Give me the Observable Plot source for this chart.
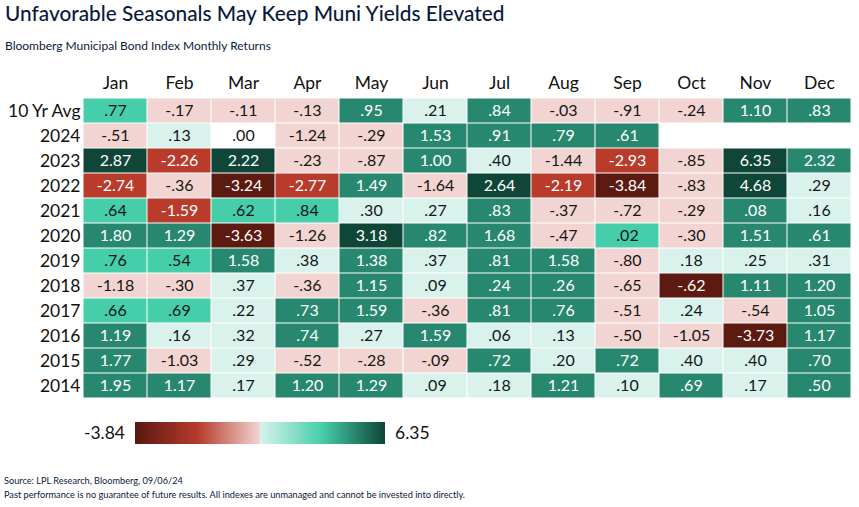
<!DOCTYPE html>
<html>
<head>
<meta charset="utf-8">
<script src="https://cdn.jsdelivr.net/npm/d3@7"></script>
<script src="https://cdn.jsdelivr.net/npm/@observablehq/plot@0.6"></script>
<style>
  html, body { margin: 0; padding: 0; background: #fff; }
  body { width: 859px; height: 507px; overflow: hidden; font-family: Lato, "Noto Sans", sans-serif; color: #0b1a3c; }
  #title { position: absolute; left: 5px; top: 0px; font-size: 20.8px; font-weight: 500; color: #0b1a3c; }
  #subtitle { position: absolute; left: 5px; top: 38px; font-size: 12px; color: #0b1a3c; }
  #chart { position: absolute; left: 0; top: 60px; }
  #legend { position: absolute; left: 0; top: 422px; width: 859px; height: 22px; }
  #legend .lo { position: absolute; right: 734px; top: 0; line-height: 22px; font-size: 17.5px; color: #111; }
  #legend .hi { position: absolute; left: 395px; top: 0; line-height: 22px; font-size: 17.5px; color: #111; }
  #legend .ramp { position: absolute; left: 135px; top: 0; }
  #source { position: absolute; left: 4px; top: 475px; font-size: 9.2px; color: #0b1a3c; }
  #note { position: absolute; left: 4px; top: 489px; font-size: 9.2px; color: #0b1a3c; }
</style>
</head>
<body>
<div id="title">Unfavorable Seasonals May Keep Muni Yields Elevated</div>
<div id="subtitle">Bloomberg Municipal Bond Index Monthly Returns</div>
<div id="chart"></div>
<div id="legend"></div>
<div id="source">Source: LPL Research, Bloomberg, 09/06/24</div>
<div id="note">Past performance is no guarantee of future results. All indexes are unmanaged and cannot be invested into directly.</div>
<script>
// ---- data ----
const months = ["Jan","Feb","Mar","Apr","May","Jun","Jul","Aug","Sep","Oct","Nov","Dec"];
const rowLabels = ["10 Yr Avg","2024","2023","2022","2021","2020","2019","2018","2017","2016","2015","2014"];

const valAvg  = [0.77,-0.17,-0.11,-0.13,0.95,0.21,0.84,-0.03,-0.91,-0.24,1.10,0.83];
const val2024 = [-0.51,0.13,0.00,-1.24,-0.29,1.53,0.91,0.79,0.61];
const val2023 = [2.87,-2.26,2.22,-0.23,-0.87,1.00,0.40,-1.44,-2.93,-0.85,6.35,2.32];
const val2022 = [-2.74,-0.36,-3.24,-2.77,1.49,-1.64,2.64,-2.19,-3.84,-0.83,4.68,0.29];
const val2021 = [0.64,-1.59,0.62,0.84,0.30,0.27,0.83,-0.37,-0.72,-0.29,0.08,0.16];
const val2020 = [1.80,1.29,-3.63,-1.26,3.18,0.82,1.68,-0.47,0.02,-0.30,1.51,0.61];
const val2019 = [0.76,0.54,1.58,0.38,1.38,0.37,0.81,1.58,-0.80,0.18,0.25,0.31];
const val2018 = [-1.18,-0.30,0.37,-0.36,1.15,0.09,0.24,0.26,-0.65,-0.62,1.11,1.20];
const val2017 = [0.66,0.69,0.22,0.73,1.59,-0.36,0.81,0.76,-0.51,0.24,-0.54,1.05];
const val2016 = [1.19,0.16,0.32,0.74,0.27,1.59,0.06,0.13,-0.50,-1.05,-3.73,1.17];
const val2015 = [1.77,-1.03,0.29,-0.52,-0.28,-0.09,0.72,0.20,0.72,0.40,0.40,0.70];
const val2014 = [1.95,1.17,0.17,1.20,1.29,0.09,0.18,1.21,0.10,0.69,0.17,0.50];

// shade class of each cell:
// -3 deep red, -2 red, -1 light red, 0 neutral, 1 light green, 2 bright green, 3 green, 4 deep green
const shadeAvg  = [2,-1,-1,-1,3,1,3,-1,-1,-1,3,3];
const shade2024 = [-1,1,0,-1,-1,3,3,3,3];
const shade2023 = [4,-2,4,-1,-1,3,1,-1,-2,-1,4,3];
const shade2022 = [-2,-1,-3,-2,3,-1,4,-2,-3,-1,4,1];
const shade2021 = [2,-2,2,2,1,1,3,-1,-1,-1,3,1];
const shade2020 = [3,3,-3,-1,4,3,3,-1,2,-1,3,3];
const shade2019 = [2,2,3,1,3,1,3,3,-1,1,1,1];
const shade2018 = [-1,-1,1,-1,3,1,3,3,-1,-3,3,3];
const shade2017 = [2,2,1,3,3,-1,3,3,-1,1,-1,3];
const shade2016 = [3,1,1,3,1,3,1,1,-1,-1,-3,3];
const shade2015 = [3,-1,1,-1,-1,-1,3,1,3,1,1,3];
const shade2014 = [3,3,1,3,3,1,1,3,1,3,1,3];

const shadeDomain = [-3,-2,-1,0,1,2,3,4];
const shadeColors = ["#5c1a11","#b83b2c","#f2d5d2","#ffffff","#d9f3ec","#46cda9","#28876f","#0f4638"];
const legendStops = ["#5a1810","#b83b2c","#f2d5d2","#d9f3ec","#46cda9","#0f4638"];

// ---- build table ----
const valueRows = [valAvg,val2024,val2023,val2022,val2021,val2020,val2019,val2018,val2017,val2016,val2015,val2014];
const shadeRows = [shadeAvg,shade2024,shade2023,shade2022,shade2021,shade2020,shade2019,shade2018,shade2017,shade2016,shade2015,shade2014];
const data = [];
rowLabels.forEach((r, i) => {
  valueRows[i].forEach((v, j) => {
    data.push({row: r, month: months[j], value: v, shade: shadeRows[i][j]});
  });
});
const fmt = v => {
  const s = Math.abs(v).toFixed(2).replace(/^0\./, ".");
  return (v < 0 ? "-" : "") + s;
};
const darkText = d => d.shade >= 3 || d.shade <= -2;

const chart = Plot.plot({
  width: 859,
  height: 350,
  marginLeft: 83,
  marginRight: 8,
  marginTop: 34,
  marginBottom: 9,
  style: {fontFamily: "Lato, 'Noto Sans', sans-serif", background: "transparent"},
  x: {domain: months, axis: "top", tickSize: 0, tickPadding: 6, label: null, padding: 0},
  y: {domain: rowLabels, tickSize: 0, tickPadding: 3, label: null, padding: 0},
  color: {type: "ordinal", domain: shadeDomain, range: shadeColors},
  marks: [
    Plot.cell(data, {x: "month", y: "row", fill: "shade", inset: 0.5}),
    Plot.text(data.filter(d => !darkText(d)), {x: "month", y: "row", text: d => fmt(d.value), fill: "#151515", fontSize: 16}),
    Plot.text(data.filter(darkText), {x: "month", y: "row", text: d => fmt(d.value), fill: "#ffffff", fontSize: 16})
  ]
});
chart.querySelectorAll("g[aria-label='x-axis tick label'], g[aria-label='y-axis tick label']").forEach(g => {
  g.setAttribute("font-size", "17.5");
  g.setAttribute("fill", "#111");
});
document.getElementById("chart").appendChild(chart);

// ---- legend ----
const allYears = valueRows.slice(1).flat();
const vMin = d3.min(allYears), vMax = d3.max(allYears);
const leftInterp = d3.piecewise(d3.interpolateRgb, legendStops.slice(0, 3));
const rightInterp = d3.piecewise(d3.interpolateRgb, legendStops.slice(3));
const legend = Plot.legend({
  color: {
    type: "diverging",
    domain: [vMin, vMax],
    pivot: 0,
    symmetric: false,
    interpolate: t => t < 0.5 ? leftInterp(t * 2) : rightInterp(t * 2 - 1)
  },
  width: 250,
  height: 22,
  marginLeft: 0,
  marginRight: 0,
  marginTop: 0,
  marginBottom: 0,
  tickSize: 0,
  tickFormat: () => "",
  label: null
});
legend.querySelectorAll(".tick").forEach(t => t.remove());
const lg = document.getElementById("legend");
const lo = document.createElement("div"); lo.className = "lo"; lo.textContent = fmt(vMin);
const hi = document.createElement("div"); hi.className = "hi"; hi.textContent = fmt(vMax);
const rampWrap = document.createElement("div"); rampWrap.className = "ramp"; rampWrap.appendChild(legend);
lg.appendChild(lo); lg.appendChild(rampWrap); lg.appendChild(hi);
</script>
</body>
</html>
